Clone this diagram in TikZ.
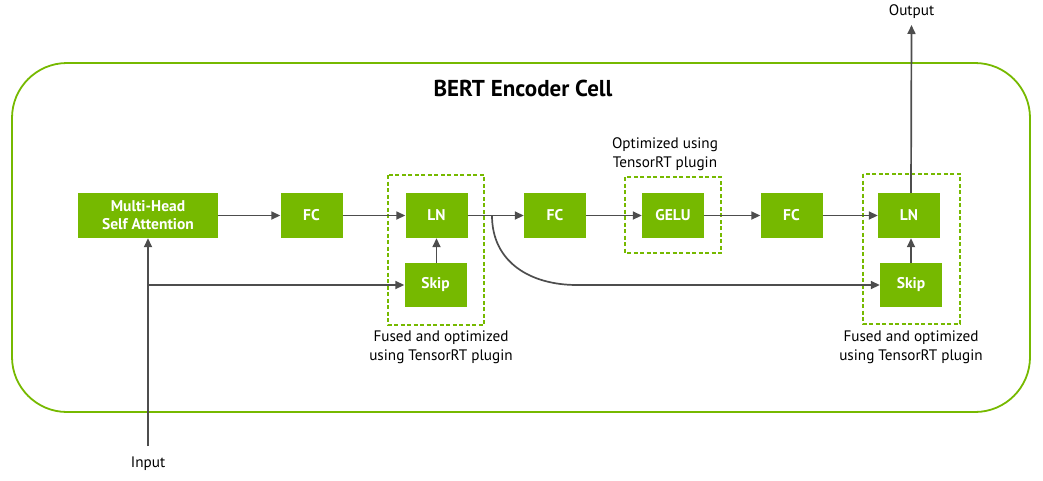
\documentclass[tikz,border=0pt]{standalone}
\usepackage{fontspec}
\setmainfont{PT Sans}
\usepackage{tikz}
\usetikzlibrary{arrows.meta}

\definecolor{nvgreen}{HTML}{76B900}
\definecolor{wiregray}{HTML}{4D4D4D}

\tikzset{
  op/.style={fill=nvgreen, text=white, font=\fontsize{15.5}{18}\selectfont\bfseries,
    minimum width=62pt, minimum height=45pt, inner sep=0pt, align=center},
  wire/.style={draw=wiregray, line width=1.7pt, -{Triangle[length=9pt,width=8pt]}},
  fused/.style={draw=nvgreen, line width=1.4pt, dash pattern=on 4pt off 2.5pt},
  note/.style={font=\fontsize{15.2}{18.5}\selectfont, align=center, inner sep=0pt}
}

\begin{document}
\begin{tikzpicture}[x=1pt,y=-1pt]
  \useasboundingbox (0,0) rectangle (1043,480);
  % encoder cell
  \draw[nvgreen, line width=1.8pt, rounded corners=55pt]
    (12,63) rectangle (1030,412);
  \node[font=\fontsize{23}{27}\selectfont\bfseries] (title) at (523,88) {BERT Encoder Cell};

  % fused regions
  \draw[fused] (388,175) rectangle (484,325);
  \draw[fused] (625,177) rectangle (721,253);
  \draw[fused] (863,174) rectangle (960,324);

  % blocks
  \node[op, minimum width=140pt] (mha) at (148,215.5) {Multi-Head\\Self Attention};
  \node[op] (fc1) at (311.5,215.5) {FC};
  \node[op] (ln1) at (436.5,215.5) {LN};
  \node[op, minimum height=44pt] (skip1) at (435.5,285) {Skip};
  \node[op] (fc2) at (555,215.5) {FC};
  \node[op] (gelu) at (673,215.5) {GELU};
  \node[op] (fc3) at (791.5,215.5) {FC};
  \node[op] (ln2) at (909,215.5) {LN};
  \node[op, minimum height=44pt] (skip2) at (911,285) {Skip};

  % notes
  \node[note] (note1) at (441,347) {Fused and optimized\\using TensorRT plugin};
  \node[note] (note2) at (665,154) {Optimized using\\TensorRT plugin};
  \node[note] (note3) at (911,347) {Fused and optimized\\using TensorRT plugin};
  \node[note] (input) at (148,464) {Input};
  \node[note] (output) at (911.5,12) {Output};

  \coordinate (inp) at (148,446);
  \coordinate (outp) at (911.5,25);
  \coordinate (split) at (492,215.5);
  \coordinate (bend) at (577,285);

  % connectors
  \draw[wire]
    (inp)
    --
    (mha.south);
  \draw[wire]
    (mha.south |- skip1.west)
    --
    (skip1.west);
  \draw[wire]
    (mha.east)
    --
    (fc1.west);
  \draw[wire]
    (fc1.east)
    --
    (ln1.west);
  \draw[wire]
    (skip1.north -| ln1.south)
    --
    (ln1.south);
  \draw[wire]
    (ln1.east)
    --
    (fc2.west);
  \draw[wire]
    (fc2.east)
    --
    (gelu.west);
  \draw[wire]
    (gelu.east)
    --
    (fc3.west);
  \draw[wire]
    (fc3.east)
    --
    (ln2.west);
  \draw[wire]
    (split) .. controls (492,262) and (530,285) .. (bend)
    --
    (skip2.west);
  \draw[wire]
    (skip2.north)
    --
    (skip2.north |- ln2.south);
  \draw[wire]
    (skip2.north |- ln2.north)
    --
    (outp);
\end{tikzpicture}
\end{document}
